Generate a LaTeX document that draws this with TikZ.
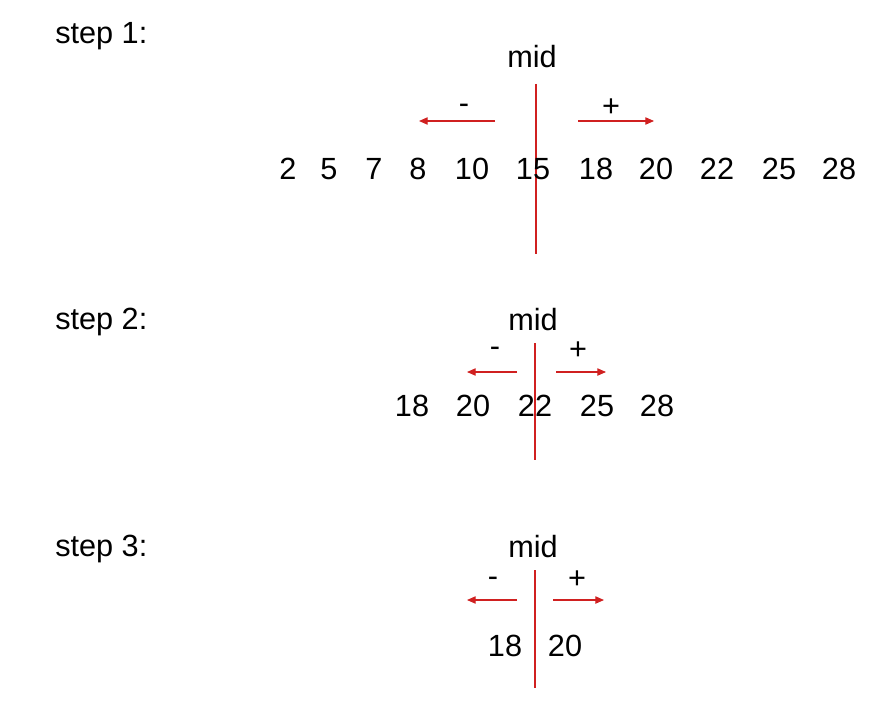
\documentclass[tikz,border=0pt]{standalone}
\usepackage{fontspec}
\setmainfont{Liberation Sans}
\usetikzlibrary{arrows.meta}
\definecolor{redline}{RGB}{208,32,32}
\tikzset{
  sign/.style={inner sep=0pt, font=\fontsize{23}{27}\selectfont, text=black},
  txt/.style={sign, text height=16.5pt, text depth=0pt},
  lbl/.style={txt, anchor=west},
  divider/.style={draw=redline, line width=0.8pt},
  dirarrow/.style={draw=redline, line width=0.8pt, -{Triangle[length=6.5pt,width=5.5pt]}}
}
\begin{document}
\begin{tikzpicture}[x=0.75pt,y=-0.75pt]
\useasboundingbox (0,0) rectangle (873,713);
% ---------- step 1 ----------
\node[lbl] (s1) at (55,33) {step 1:};
\node[txt] (mid1) at (532,57) {mid};
\coordinate (l1t) at (536,84);
\coordinate (l1b) at (536,254);
\draw[divider] (l1t) -- (l1b);
\node[sign] (minus1) at (464,109) {-};
\node[sign] (plus1) at (611,108) {+};
\coordinate (a1s) at (495,121); \coordinate (a1e) at (419,121);
\coordinate (b1s) at (578,121); \coordinate (b1e) at (654,121);
\draw[dirarrow] (a1s) -- (a1e);
\draw[dirarrow] (b1s) -- (b1e);
\node[txt] (n1a) at (288,168) {2};
\node[txt] (n1b) at (329,168) {5};
\node[txt] (n1c) at (374,168) {7};
\node[txt] (n1d) at (418,168) {8};
\node[txt] (n1e) at (472,168) {10};
\node[txt] (n1f) at (533,168) {15};
\node[txt] (n1g) at (596,168) {18};
\node[txt] (n1h) at (656,168) {20};
\node[txt] (n1i) at (717,168) {22};
\node[txt] (n1j) at (779,168) {25};
\node[txt] (n1k) at (839,168) {28};
% ---------- step 2 ----------
\node[lbl] (s2) at (55,318) {step 2:};
\node[txt] (mid2) at (533,319) {mid};
\coordinate (l2t) at (535,343);
\coordinate (l2b) at (535,460);
\draw[divider] (l2t) -- (l2b);
\node[sign] (minus2) at (495,352) {-};
\node[sign] (plus2) at (578,351) {+};
\coordinate (a2s) at (517,372); \coordinate (a2e) at (467,372);
\coordinate (b2s) at (556,372); \coordinate (b2e) at (606,372);
\draw[dirarrow] (a2s) -- (a2e);
\draw[dirarrow] (b2s) -- (b2e);
\node[txt] (n2a) at (412,405) {18};
\node[txt] (n2b) at (473,405) {20};
\node[txt] (n2c) at (535,405) {22};
\node[txt] (n2d) at (597,405) {25};
\node[txt] (n2e) at (657,405) {28};
% ---------- step 3 ----------
\node[lbl] (s3) at (55,545) {step 3:};
\node[txt] (mid3) at (533,546) {mid};
\coordinate (l3t) at (535,570);
\coordinate (l3b) at (535,688);
\draw[divider] (l3t) -- (l3b);
\node[sign] (minus3) at (493,582) {-};
\node[sign] (plus3) at (577,580) {+};
\coordinate (a3s) at (517,600); \coordinate (a3e) at (467,600);
\coordinate (b3s) at (553,600); \coordinate (b3e) at (604,600);
\draw[dirarrow] (a3s) -- (a3e);
\draw[dirarrow] (b3s) -- (b3e);
\node[txt] (n3a) at (505,645) {18};
\node[txt] (n3b) at (565,645) {20};
\end{tikzpicture}
\end{document}
